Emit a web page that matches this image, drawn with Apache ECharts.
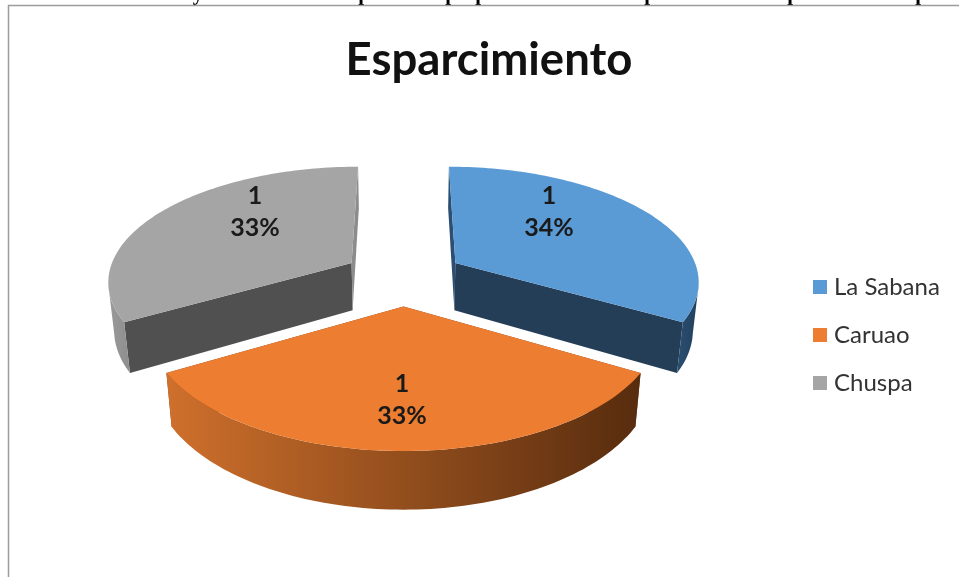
<!DOCTYPE html>
<html>
<head>
<meta charset="utf-8">
<title>Esparcimiento</title>
<script src="https://cdn.jsdelivr.net/npm/echarts@6/dist/echarts.min.js"></script>
<style>
    html, body { margin: 0; padding: 0; background: #fff; }
    #main { width: 959px; height: 577px; }
</style>
</head>
<body>
<div id="main"></div>
<script>
"use strict";
// values
let categories = ['La Sabana', 'Caruao', 'Chuspa'];
let values = [1, 1, 1];
let percents = ['34%', '33%', '33%'];
let topColors = ['#5b9bd5', '#ed7d31', '#a5a5a5'];
// cut faces (first and last edge of the slice), then outer wall colours left to right
let startFaceColors = ['#2b4e72', '#7a4019', '#505050'];
let endFaceColors = ['#243e58', '#7a4019', '#8c8c8c'];
let wallColors = [['#2b4e72', '#22405c'], ['#cf702c', '#572c0e'], ['#9a9a9a', '#8e8e8e']];
let labelSpots = [[549, 196], [402, 384], [255, 196]];
// bits of the line of text cut off above the chart
let cutGlyphs = ['y', 'p', 'p', 'p', 'p', 'p', 'p'];
let cutGlyphX = [198, 364, 451, 481, 650, 793, 921];

let total = values.reduce(function (a, b) { return a + b; }, 0);
let explode = 0.25;

// tilted camera: Y runs toward the viewer, Z runs down the pie's side
function project(x, y, z) {
    let w = 1 - 0.145 * y;
    return [403.5 + 244 * x / (w + 0.02 * z), 277 + (114 * y + 48 * z) / w];
}

function ringPoint(idx, phi, r, z) {
    let mid = startAngle(idx) + angleOf(idx) / 2;
    let x = explode * Math.sin(mid) + r * Math.sin(phi);
    let y = -explode * Math.cos(mid) - r * Math.cos(phi);
    return project(x, y, z);
}

function angleOf(idx) {
    return values[idx] / total * Math.PI * 2;
}

function startAngle(idx) {
    let sum = 0;
    for (let i = 0; i < idx; i++) {
        sum += angleOf(i);
    }
    return sum;
}

function renderSlice(idx) {
    let a0 = startAngle(idx);
    let a1 = a0 + angleOf(idx);
    let topArc = [];
    let wallTop = [];
    let wallBottom = [];
    let firstBottom, lastBottom;
    for (let i = 0; i <= 90; i++) {
        let phi = a0 + (a1 - a0) * i / 90;
        let t = ringPoint(idx, phi, 1, 0);
        let b = ringPoint(idx, phi, 1, 1);
        topArc.push(t);
        if (i === 0) firstBottom = b;
        if (i === 90) lastBottom = b;
        // only the part of the rim that faces the camera gets a wall
        if (-Math.cos(phi) >= 0.18) {
            wallTop.push(t);
            wallBottom.push(b);
        }
    }
    let apexTop = ringPoint(idx, a0, 0, 0);
    let apexBottom = ringPoint(idx, a0, 0, 1);
    let children = [];
    children.push({
        type: 'polygon',
        shape: { points: [apexTop, topArc[0], firstBottom, apexBottom] },
        style: { fill: startFaceColors[idx] }
    });
    children.push({
        type: 'polygon',
        shape: { points: [apexTop, topArc[90], lastBottom, apexBottom] },
        style: { fill: endFaceColors[idx] }
    });
    children.push({
        type: 'polygon',
        shape: { points: wallTop.concat(wallBottom.slice().reverse()) },
        style: {
            fill: new echarts.graphic.LinearGradient(0, 0, 1, 0, [
                { offset: 0, color: wallColors[idx][0] },
                { offset: 1, color: wallColors[idx][1] }
            ])
        }
    });
    children.push({
        type: 'polygon',
        shape: { points: [apexTop].concat(topArc) },
        style: { fill: topColors[idx] }
    });
    let lines = [String(values[idx]), percents[idx]];
    for (let i = 0; i < lines.length; i++) {
        children.push({
            type: 'text',
            style: {
                x: labelSpots[idx][0],
                y: labelSpots[idx][1] + i * 32,
                text: lines[i],
                fill: '#1a1a1a',
                font: 'bold 25px Lato',
                align: 'center',
                verticalAlign: 'middle'
            }
        });
    }
    return { type: 'group', children: children };
}

let seriesList = [];
// orange goes last, it sits in front of the other two
[0, 2, 1].forEach(function (idx) {
    seriesList.push({
        name: categories[idx],
        type: 'custom',
        coordinateSystem: 'none',
        silent: true,
        itemStyle: { color: topColors[idx] },
        data: [values[idx]],
        renderItem: function () {
            return renderSlice(idx);
        }
    });
});

let graphics = [];
for (let i = 0; i < cutGlyphs.length; i++) {
    graphics.push({
        type: 'text',
        x: cutGlyphX[i],
        y: 5,
        style: {
            text: cutGlyphs[i],
            fill: '#000',
            font: 'bold 21px "Liberation Serif"',
            align: 'center',
            verticalAlign: 'bottom'
        }
    });
}
graphics.push({
    type: 'polyline',
    shape: { points: [[8.5, 577], [8.5, 5.5], [959, 5.5]] },
    style: { stroke: '#9c9c9c', lineWidth: 1.5, fill: null }
});

let myChart = echarts.init(document.getElementById('main'));
myChart.setOption({
    animation: false,
    backgroundColor: '#fff',
    title: {
        text: 'Esparcimiento',
        left: 484,
        top: 32,
        textAlign: 'center',
        textStyle: { fontFamily: 'Lato', fontWeight: 'bold', fontSize: 45.5, color: '#111' }
    },
    legend: {
        orient: 'vertical',
        left: 808,
        top: 270,
        data: categories,
        icon: 'rect',
        itemWidth: 14,
        itemHeight: 14,
        itemGap: 24,
        selectedMode: false,
        textStyle: { fontFamily: 'Lato', fontSize: 24, color: '#333', lineHeight: 14, padding: [0, 0, 0, 2] }
    },
    graphic: graphics,
    series: seriesList
});
</script>
</body>
</html>
